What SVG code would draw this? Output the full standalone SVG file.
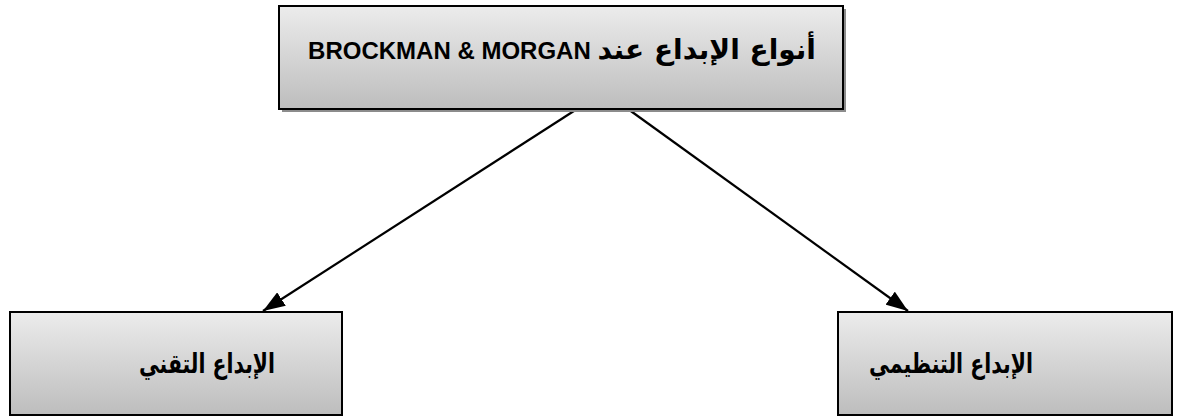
<svg xmlns="http://www.w3.org/2000/svg" width="1183" height="416" viewBox="0 0 1183 416">
  <defs>
    <linearGradient id="boxFill" x1="0" y1="0" x2="0" y2="1">
      <stop offset="0" stop-color="#ececec"/>
      <stop offset="1" stop-color="#bdbdbd"/>
    </linearGradient>
    <marker id="arrowHead" viewBox="0 0 22 16" refX="22" refY="8" markerWidth="22" markerHeight="16" markerUnits="userSpaceOnUse" orient="auto">
      <path d="M0,0 L22,8 L0,16 z" fill="#000"/>
    </marker>
  </defs>
  <style>
    .box { fill: url(#boxFill); stroke: #000; stroke-width: 2; }
    .shadow { fill: #8c8c8c; }
    .label { font-family: "Liberation Sans", "DejaVu Sans", Arial, sans-serif; font-weight: bold; fill: #000; }
    .ar { font-family: "DejaVu Sans", sans-serif; }
    .edge { stroke: #000; stroke-width: 2.2; fill: none; marker-end: url(#arrowHead); }
  </style>

  <rect width="1183" height="416" fill="#fff"/>

  <!-- connectors from the root box down to the two child boxes -->
  <g id="edges">
    <line class="edge" x1="577" y1="109" x2="263" y2="311"/>
    <line class="edge" x1="628" y1="109" x2="908" y2="311"/>
  </g>

  <g id="root">
    <rect class="shadow" x="282" y="9" width="564" height="103"/>
    <rect class="box" x="279" y="6" width="564" height="103"/>
    <text class="label" x="562" y="59" font-size="24" text-anchor="middle" direction="rtl"><tspan class="ar" font-size="28">أنواع الإبداع عند</tspan> BROCKMAN &amp; MORGAN</text>
  </g>

  <g id="technical">
    <rect class="box" x="10" y="312" width="332" height="103"/>
    <text class="label ar" x="207" y="373" font-size="27" text-anchor="middle" direction="rtl" textLength="136" lengthAdjust="spacingAndGlyphs">الإبداع التقني</text>
  </g>

  <g id="organizational">
    <rect class="box" x="838" y="312" width="334" height="103"/>
    <text class="label ar" x="951" y="373" font-size="27" text-anchor="middle" direction="rtl" textLength="164" lengthAdjust="spacingAndGlyphs">الإبداع التنظيمي</text>
  </g>
</svg>
